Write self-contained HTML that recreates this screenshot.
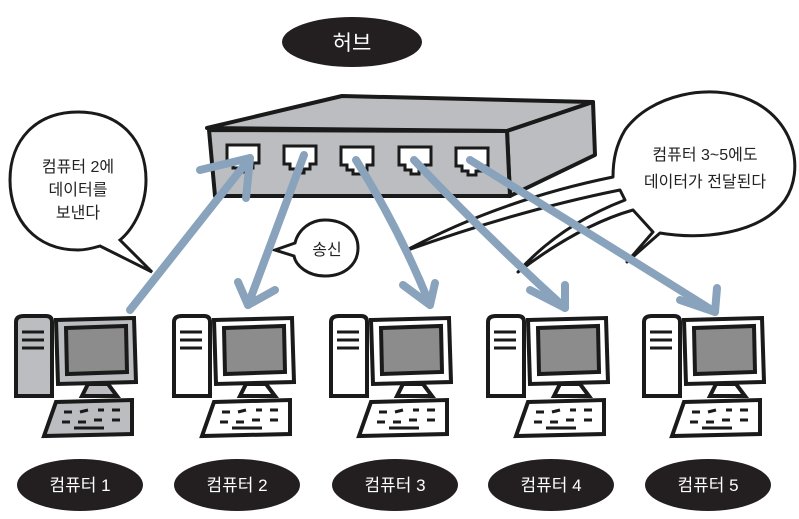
<!DOCTYPE html>
<html><head><meta charset="utf-8"><style>
html,body{margin:0;padding:0;background:#fff}
svg{display:block}
text{font-family:"Liberation Sans","Noto Sans CJK KR",sans-serif}
</style></head><body>
<svg width="799" height="519" viewBox="0 0 799 519" xmlns="http://www.w3.org/2000/svg">
<defs>
<g id="pc">
  <path d="M2,6 Q2,0 10,0 L32,0 Q38,0 38,6 L38,80 L2,80 Z" fill="var(--f)" stroke="#1a1a1a" stroke-width="4"/>
  <path d="M8,16 L30,16 M8,24 L30,24 M8,32 L30,32" stroke="#1a1a1a" stroke-width="3"/>
  <path d="M42,4 L120,2 L122,66 L44,68 Z" fill="var(--f)" stroke="#1a1a1a" stroke-width="4"/>
  <path d="M52,12 L112,10 L113,56 L53,58 Z" fill="#8c8c8c" stroke="#1a1a1a" stroke-width="4"/>
  <path d="M74,68 L94,68 L103,80 L68,80 Z" fill="var(--f)" stroke="#1a1a1a" stroke-width="4"/>
  <path d="M42,86 L118,84 L118,118 L30,120 Z" fill="var(--f)" stroke="#1a1a1a" stroke-width="4"/>
  <path d="M50,96 l8,0 M48,106 l8,0 M66,96 l8,-2 M64,106 l8,0 M84,94 l6,0 M80,104 l8,0 M98,94 l8,0 M98,104 l8,0 M60,112 l30,0" stroke="#1a1a1a" stroke-width="3"/>
</g>
</defs>

<ellipse cx="352" cy="42" rx="70" ry="25" fill="#231f20"/>
<text x="352" y="50" font-size="21" fill="#fff" text-anchor="middle">허브</text>

<path d="M207,128 L342,96 L593,102 L507,131 Z" fill="#bcbdc0" stroke="#1a1a1a" stroke-width="4" stroke-linejoin="round"/>
<path d="M507,131 L593,102 L595,155 L510,196 Z" fill="#bcbdc0" stroke="#1a1a1a" stroke-width="4" stroke-linejoin="round"/>
<path d="M209,130 L507,131 L510,196 L215,196 Z" fill="#bcbdc0" stroke="#1a1a1a" stroke-width="4" stroke-linejoin="round"/>
<g fill="#fff" stroke="#1a1a1a" stroke-width="3">
<path d="M227,145 h32 v18 h-6 v5 h-6 v4 h-8 v-4 h-6 v-5 h-6 z"/>
<path d="M284,146 h32 v18 h-6 v5 h-6 v4 h-8 v-4 h-6 v-5 h-6 z"/>
<path d="M341,147 h32 v18 h-6 v5 h-6 v4 h-8 v-4 h-6 v-5 h-6 z"/>
<path d="M399,147 h32 v18 h-6 v5 h-6 v4 h-8 v-4 h-6 v-5 h-6 z"/>
<path d="M456,148 h32 v18 h-6 v5 h-6 v4 h-8 v-4 h-6 v-5 h-6 z"/>
</g>

<path d="M78,112 C120,112 146,140 146,180 C146,210 130,232 120,240 L152,272 L100,246 C90,249 82,250 78,250 C36,250 10,220 10,180 C10,140 36,112 78,112 Z" fill="#fff" stroke="#1a1a1a" stroke-width="3"/>
<text x="78" y="172" font-size="16" text-anchor="middle" fill="#222">컴퓨터 2에</text>
<text x="78" y="195" font-size="16" text-anchor="middle" fill="#222">데이터를</text>
<text x="78" y="218" font-size="16" text-anchor="middle" fill="#222">보낸다</text>

<path d="M660,233 C700,240 760,235 785,200 C805,170 795,120 750,100 C710,82 650,95 625,130 C616,145 613,160 613,177 Q500,200 405,251 Q520,210 620,190 L625,200 Q560,225 518,272 Q580,225 633,210 L653,232 L627,262 Z" fill="#fff" stroke="#1a1a1a" stroke-width="3" stroke-linejoin="round"/>
<text x="705" y="160" font-size="16" text-anchor="middle" fill="#222">컴퓨터 3~5에도</text>
<text x="705" y="187" font-size="16" text-anchor="middle" fill="#222">데이터가 전달된다</text>

<path d="M325,220 C345,220 358,232 358,248 C358,264 345,276 325,276 C308,276 296,266 294,256 L275,250 L295,243 C298,230 310,220 325,220 Z" fill="#fff" stroke="#1a1a1a" stroke-width="3"/>
<text x="327" y="255" font-size="16" text-anchor="middle" fill="#222">송신</text>

<g style="--f:#bcbdc0" transform="translate(14,316)"><use href="#pc"/></g>
<g style="--f:#fff" transform="translate(172,316)"><use href="#pc"/></g>
<g style="--f:#fff" transform="translate(329,316)"><use href="#pc"/></g>
<g style="--f:#fff" transform="translate(486,316)"><use href="#pc"/></g>
<g style="--f:#fff" transform="translate(642,316)"><use href="#pc"/></g>

<g stroke="#89a3bd" stroke-width="8" fill="none" stroke-linecap="round" stroke-linejoin="round">
<path d="M130,310 L250,158"/>
<path d="M200,170 L250,158 L246,198"/>
<path d="M304,155 L248,305"/>
<path d="M238,282 L248,305 L275,290"/>
<path d="M356,160 Q400,230 430,305"/>
<path d="M403,285 L430,305 L435,283"/>
<path d="M414,160 Q490,240 565,308"/>
<path d="M530,290 L565,308 L565,285"/>
<path d="M470,160 Q600,240 715,312"/>
<path d="M680,300 L715,312 L717,288"/>
</g>

<g fill="#231f20">
<ellipse cx="80" cy="485" rx="63" ry="26"/>
<ellipse cx="237" cy="485" rx="63" ry="26"/>
<ellipse cx="395" cy="485" rx="63" ry="26"/>
<ellipse cx="551" cy="485" rx="63" ry="26"/>
<ellipse cx="708" cy="485" rx="63" ry="26"/>
</g>
<g fill="#fff" font-size="17" text-anchor="middle">
<text x="80" y="491">컴퓨터 1</text>
<text x="237" y="491">컴퓨터 2</text>
<text x="395" y="491">컴퓨터 3</text>
<text x="551" y="491">컴퓨터 4</text>
<text x="708" y="491">컴퓨터 5</text>
</g>
</svg>
</body></html>
